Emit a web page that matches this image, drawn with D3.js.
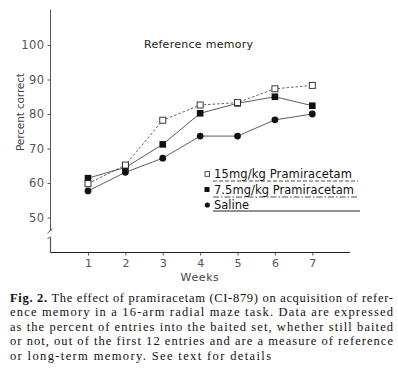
<!DOCTYPE html>
<html><head><meta charset="utf-8">
<script src="https://cdn.jsdelivr.net/npm/d3@7"></script>
<style>body{margin:0;background:#fff}svg{display:block}</style>
</head><body>
<svg id="c" width="398" height="377"></svg>
<script>
const weeks = [1,2,3,4,5,6,7];
const pram15 = [59.8,65.2,78.2,82.6,83.3,87.3,88.3];
const pram75 = [61.4,64.5,71.2,80.2,83.1,85.0,82.4];
const saline = [57.7,63.1,67.2,73.6,73.6,78.3,80.0];
const yTicks = [50,60,70,80,90,100];
const seriesNames = ["15mg/kg Pramiracetam","7.5mg/kg Pramiracetam","Saline"];
const captionLines = [
 ["Fig. 2.", " The effect of pramiracetam (CI-879) on acquisition of refer-"],
 ["", "ence memory in a 16-arm radial maze task. Data are expressed"],
 ["", "as the percent of entries into the baited set, whether still baited"],
 ["", "or not, out of the first 12 entries and are a measure of reference"],
 ["", "or long-term memory. See text for details"]
];

const svg = d3.select("#c");
const x = d3.scaleLinear().domain([1,7]).range([88,312.3]);
const y = d3.scaleLinear().domain([50,100]).range([217.5,45]);
const axX = 50.5, axY = 252.5;
const axisInk = "#555";
const sans = "DejaVu Sans, sans-serif";

// y axis (upper part)
svg.append("line").attr("x1",axX).attr("x2",axX).attr("y1",10).attr("y2",231)
 .attr("stroke",axisInk).attr("stroke-width",1);
// break marks
svg.append("line").attr("x1",axX-3).attr("y1",233).attr("x2",axX+2).attr("y2",229).attr("stroke",axisInk);
svg.append("line").attr("x1",axX-3).attr("y1",238.5).attr("x2",axX+0.5).attr("y2",237).attr("stroke",axisInk);
svg.append("line").attr("x1",axX).attr("x2",axX).attr("y1",237.5).attr("y2",axY)
 .attr("stroke",axisInk).attr("stroke-width",1.2);
// y ticks
const yAxis = d3.axisLeft(y).tickValues(yTicks).tickSize(3).tickSizeOuter(0);
const ya = svg.append("g").attr("transform",`translate(${axX},0)`).call(yAxis);
ya.select(".domain").remove();
ya.selectAll(".tick line").attr("stroke",axisInk);
ya.selectAll(".tick text").attr("font-family",sans).attr("font-size",11.5).attr("fill","#555")
 .attr("x",-6).style("letter-spacing","0.4px");

// x axis
svg.append("line").attr("x1",axX).attr("x2",350).attr("y1",axY).attr("y2",axY).attr("stroke","#222").attr("stroke-width",1.1);
const xAxis = d3.axisBottom(x).tickValues(weeks).tickSize(3).tickSizeOuter(0).tickFormat(d3.format("d"));
const xa = svg.append("g").attr("transform",`translate(0,${axY})`).call(xAxis);
xa.select(".domain").remove();
xa.selectAll(".tick line").attr("stroke",axisInk);
xa.selectAll(".tick text").attr("font-family",sans).attr("font-size",11).attr("fill","#555").attr("y",7);

svg.append("text").attr("x",200).attr("y",281).attr("text-anchor","middle")
 .attr("font-family",sans).attr("font-size",11).attr("fill","#444").style("letter-spacing","0.6px").text("Weeks");
svg.append("text").attr("transform","translate(24,112) rotate(-90)").attr("text-anchor","middle")
 .attr("font-family",sans).attr("font-size",10.5).attr("fill","#444").attr("textLength",78).attr("lengthAdjust","spacing").text("Percent correct");
svg.append("text").attr("x",144).attr("y",48).attr("font-family",sans).attr("font-size",11)
 .attr("fill","#222").attr("textLength",109).attr("lengthAdjust","spacing").text("Reference memory");

// series
const series = [
 {vals:pram15, dash:"2.5,2", marker:"open"},
 {vals:pram75, dash:null, marker:"sq"},
 {vals:saline, dash:null, marker:"circ"}
];
const line = d3.line().x((d,i)=>x(weeks[i])).y(d=>y(d));
series.forEach(s=>{
  svg.append("path").attr("d",line(s.vals)).attr("fill","none").attr("stroke","#333")
   .attr("stroke-width",0.8).attr("stroke-dasharray",s.dash);
});
function marker(sel, type, cx, cy){
  if(type==="open") sel.append("rect").attr("x",cx-3).attr("y",cy-3).attr("width",6).attr("height",6)
     .attr("fill","#fff").attr("stroke","#222").attr("stroke-width",0.9);
  else if(type==="sq") sel.append("rect").attr("x",cx-3.3).attr("y",cy-3.3).attr("width",6.6).attr("height",6.6).attr("fill","#111");
  else sel.append("circle").attr("cx",cx).attr("cy",cy).attr("r",3.4).attr("fill","#111");
}
[series[2],series[1],series[0]].forEach(s=>{
  s.vals.forEach((v,i)=>marker(svg,s.marker,x(weeks[i]),y(v)));
});

// legend
const legY = [174,189.5,205];
const legLineY = [181,197,211];
const legDash = ["4,2","6,2,1.5,2",null];
const legMark = ["open","sq","circ"];
const legW = [138,140,null];
seriesNames.forEach((n,i)=>{
  if(legMark[i]==="open") svg.append("rect").attr("x",205).attr("y",legY[i]-2.3).attr("width",4.6).attr("height",4.6).attr("fill","#fff").attr("stroke","#222").attr("stroke-width",0.8);
  else if(legMark[i]==="sq") svg.append("rect").attr("x",204.5).attr("y",legY[i]-2.5).attr("width",5).attr("height",5).attr("fill","#111");
  else svg.append("circle").attr("cx",207.3).attr("cy",legY[i]).attr("r",2.6).attr("fill","#111");
  const t = svg.append("text").attr("x",214).attr("y",legY[i]+4).attr("font-family",sans).attr("font-size",11.5).attr("fill","#111").text(n);
  if(legW[i]) t.attr("textLength",legW[i]).attr("lengthAdjust","spacing");
  svg.append("line").attr("x1",213).attr("x2",i===2?360:358).attr("y1",legLineY[i]).attr("y2",legLineY[i])
   .attr("stroke","#222").attr("stroke-width",i===2?1.1:0.8).attr("stroke-dasharray",legDash[i]);
});

// caption
const capX = 10, capY0 = 302, capDy = 14.4;
const capWidths = [383, 383, 383, 383, 261];
const capFont = "'Liberation Serif', 'Times New Roman', Times, serif";
captionLines.forEach((parts,i)=>{
  const t = svg.append("text").attr("x",capX).attr("y",capY0+i*capDy)
    .attr("font-family",capFont).attr("font-size",12.5).attr("fill","#111")
    .attr("textLength",capWidths[i]).attr("lengthAdjust","spacing");
  if(parts[0]) t.append("tspan").attr("font-weight","bold").text(parts[0]);
  t.append("tspan").text(parts[1]);
});
</script>
</body></html>
